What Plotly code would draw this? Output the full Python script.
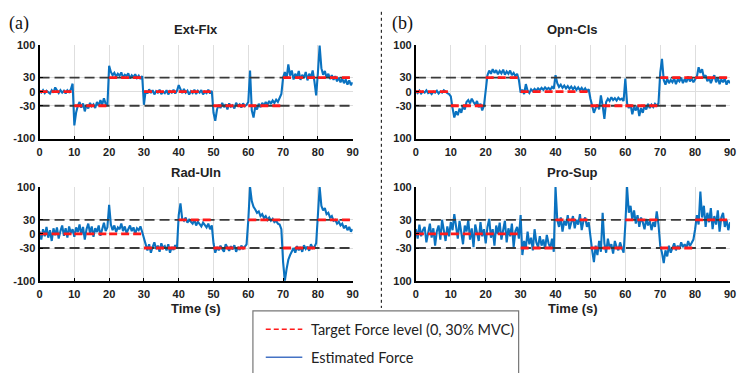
import numpy as np
import plotly.graph_objects as go

# ---------------- data ----------------
time_s = np.arange(0, 90.5, 0.5)  # sampling instants (s)
seg_starts = [0, 10, 20, 30, 40, 50, 60, 70, 80]
seg_len = 10

titles = ["Ext-Flx", "Opn-Cls", "Rad-Uln", "Pro-Sup"]

target_ext = [0, -30, 30, 0, 0, -30, -30, 30, 30]
target_opn = [0, -30, 30, 0, 0, -30, -30, 30, 30]
target_rad = [0, 0, 0, -30, 30, -30, 30, -30, 30]
target_pro = [0, 0, 0, -30, 30, -30, 30, -30, 30]

est_ext = [1, -2, 3, -3, 2, -1, -4, 3, -2, 9, 2, -3, 3, -2, 2, -4, 3, -1, 5, 17,
           -72, -45, -30, -22, -34, -25, -42, -28, -36, -24, -31, -27, -35, -22, -30, -18, -28, -14, -26, -30,
           55, 42, 35, 40, 32, 38, 34, 41, 30, 36, 33, 39, 28, 35, 31, 37, 29, 34, 27, 33,
           -28, 2, -4, 5, -3, 3, -6, 1, -2, 4, -5, 0, -3, 3, -6, 1, -2, 4, -4, 2,
           14, 4, -3, 6, -2, 2, -6, 1, -3, 4, -5, 2, -2, 3, -6, 0, -3, 4, -4, 2,
           -45, -62, -38, -28, -35, -24, -33, -27, -38, -25, -32, -29, -36, -24, -30, -27, -34, -25, -31, -28,
           -22, 45, -40, -55, -32, -38, -26, -33, -24, -30, -22, -28, -20, -26, -19, -24, -17, -22, -12, -5,
           30, 42, 28, 58, 34, 45, 26, 38, 30, 44, 25, 36, 29, 42, 24, 38, 30, 45, 22, -8,
           40, 98, 50, 36, 44, 30, 38, 27, 35, 25, 33, 22, 30, 20, 28, 18, 26, 15, 24, 14, 20]

est_opn = [1, -3, 2, -4, 0, -2, 3, -3, -1, -5, 0, -2, 2, -4, 0, -2, 3, -1, -3, -5,
           -10, -35, -55, -42, -50, -36, -45, -30, -38, -22, -18, -25, -15, -22, -28, -20, -33, -26, -40, -30,
           10, 35, 45, 38, 48, 40, 46, 37, 44, 39, 47, 36, 43, 38, 45, 35, 40, 33, 38, 25,
           -2, 4, -5, 16, 2, -3, 5, 1, 6, 2, 7, 3, 8, 4, 9, 5, 8, 4, 10, 6,
           35, 18, 10, 15, 8, 13, 7, 12, 6, 11, 5, 10, 4, 9, 3, 8, 2, 7, 1, 5,
           -15, -32, -45, -35, -28, -38, -8, -30, -58, -22, -15, -20, -12, -18, -14, -19, -13, -17, -15, -20,
           28, -25, -35, -28, -48, -32, -40, -30, -52, -35, -45, -30, -38, -26, -35, -28, -33, -26, -30, -25,
           40, 70, 25, 15, 28, 18, 25, 20, 28, 16, 26, 22, 30, 18, 27, 20, 32, 22, 28, 20,
           25, 32, 52, 40, 48, 30, 35, 22, 30, 18, 28, 35, 20, 30, 16, 26, 20, 28, 15, 24, 18]

est_rad = [5, -12, 10, -5, 15, -8, 8, -15, 12, -3, 14, -10, 6, 18, -4, 12, -8, 16, 2, 10,
           -6, 14, 4, 20, -2, 15, -12, 10, 22, 2, 16, -6, 12, 4, 18, -4, 10, 24, 6, 14,
           62, 20, 8, 18, 4, 14, 10, 22, 6, 16, 2, 12, 18, 6, 14, 0, 12, 8, 16, 4,
           -10, -25, -35, -22, -40, -28, -18, -32, -25, -38, -20, -30, -26, -35, -22, -40, -28, -34, -24, -30,
           40, 65, 32, 28, 35, 24, 30, 26, 22, 30, 18, 26, 22, 16, 24, 20, 14, 22, 10, 18,
           -20, -40, -28, -35, -25, -32, -38, -22, -30, -36, -26, -33, -24, -38, -28, -34, -25, -31, -27, -22,
           30, 100, 70, 58, 52, 45, 48, 38, 42, 34, 38, 30, 35, 28, 32, 25, 28, 22, 20, 10,
           -60, -100, -75, -55, -45, -38, -30, -40, -26, -35, -28, -38, -24, -32, -27, -36, -22, -30, -28, -20,
           40, 100, 60, 50, 55, 42, 45, 35, 38, 28, 30, 22, 26, 18, 22, 12, 18, 8, 15, 5, 10]

est_pro = [10, -10, 20, -5, 8, 15, -18, 5, 22, -8, 12, -25, 6, 18, -12, 30, 2, -15, 16, -5,
           25, 8, 42, 15, -10, 28, 0, -22, 18, 5, 30, -12, 12, -28, 20, 2, -15, 25, -5, 10,
           -20, 15, 32, -8, 10, -25, 18, 0, 24, -12, 8, 28, -18, 12, -5, 22, -28, 6, 15, -10,
           40, -45, -15, -30, 5, -22, -8, -35, 10, -18, -28, -5, -25, -12, -32, -2, -20, -30, -10, -38,
           100, 30, 15, 35, 5, 28, 18, 40, 10, 25, 38, 12, 30, 20, 42, 8, 28, 35, 15, 25,
           -10, -35, -60, -25, -45, -15, -38, 45, -20, -40, -10, -30, -22, -42, -15, -28, -35, -18, -30, -40,
           20, 100, 45, 60, 30, 50, 22, 40, 15, 35, 25, 10, 32, 18, 28, 8, 25, 15, 48, 20,
           -25, -40, -62, -35, -48, -25, -40, -30, -20, -35, -25, -32, -18, -28, -22, -30, -15, -26, -20, -12,
           10, 40, 20, 90, 35, 60, 15, 45, 25, 55, 10, 38, 20, 50, 5, 35, 45, 15, 30, 8, 25]

y_ticks = [-100, -30, 0, 30, 100]
x_ticks = [0, 10, 20, 30, 40, 50, 60, 70, 80, 90]

# ---------------- layout geometry ----------------
W, H = 739, 373
def px_x(p):
    return p / W
def px_y(p):
    return 1 - p / H

panels = [
    dict(xd=[px_x(37), px_x(354)], yd=[px_y(137), px_y(40)], est=est_ext, tgt=target_ext, ylab=["-100", "-30", "0", "30", "100"]),
    dict(xd=[px_x(418), px_x(736)], yd=[px_y(137), px_y(40)], est=est_opn, tgt=target_opn, ylab=["100", "-30", "0", "30", "100"]),
    dict(xd=[px_x(37), px_x(354)], yd=[px_y(284), px_y(187)], est=est_rad, tgt=target_rad, ylab=["-100", "-30", "0", "30", "100"]),
    dict(xd=[px_x(418), px_x(736)], yd=[px_y(284), px_y(187)], est=est_pro, tgt=target_pro, ylab=["100", "-30", "0", "30", "100"]),
]

BLUE = "#0a72c0"
RED = "#FF1A1A"
DARK = "#3a3a3a"

fig = go.Figure()
layout = dict(width=W, height=H, margin=dict(l=0, r=0, t=0, b=0),
              paper_bgcolor="white", plot_bgcolor="white", showlegend=False)
annotations = []
shapes = []

for k, p in enumerate(panels):
    n = "" if k == 0 else str(k + 1)
    xa, ya = "x" + n, "y" + n
    # estimated force
    fig.add_trace(go.Scatter(x=time_s, y=p["est"], mode="lines", xaxis=xa, yaxis=ya,
                             line=dict(color=BLUE, width=2.1), hoverinfo="skip"))
    # +/-30 reference dashed lines
    for lvl in (30, -30):
        fig.add_trace(go.Scatter(x=[x_ticks[0], x_ticks[-1]], y=[lvl, lvl], mode="lines",
                                 xaxis=xa, yaxis=ya,
                                 line=dict(color=DARK, width=1.8, dash="10px,5px"), hoverinfo="skip"))
    # target force (red dashed step segments)
    tx, ty = [], []
    for s, v in zip(seg_starts, p["tgt"]):
        tx += [s, s + seg_len, None]
        ty += [v, v, None]
    fig.add_trace(go.Scatter(x=tx, y=ty, mode="lines", xaxis=xa, yaxis=ya,
                             line=dict(color=RED, width=2.8, dash="8px,4px"), hoverinfo="skip"))

    axis_common = dict(showline=True, linecolor="black", linewidth=2, mirror=False,
                       ticks="inside", ticklen=3, tickcolor="black", tickwidth=1,
                       showgrid=True, gridcolor="#dedede", gridwidth=1, zeroline=False,
                       tickfont=dict(family="Liberation Sans, Arial", size=11, color="#222", weight="bold"))
    layout["xaxis" + n] = dict(domain=p["xd"], anchor=ya, range=[0, 90], tickvals=x_ticks,
                               ticklabelstandoff=2, **axis_common)
    layout["yaxis" + n] = dict(domain=p["yd"], anchor=xa, range=[-100, 100], tickvals=y_ticks,
                               ticktext=p["ylab"], **axis_common)
    # subplot title
    annotations.append(dict(text="<b>" + titles[k] + "</b>", xref="paper", yref="paper",
                            x=(p["xd"][0] + p["xd"][1]) / 2, y=p["yd"][1] + 0.015,
                            xanchor="center", yanchor="bottom", showarrow=False,
                            font=dict(family="Liberation Sans, Arial", size=13, color="#222")))
    if k >= 2:
        annotations.append(dict(text="<b>Time (s)</b>", xref="paper", yref="paper",
                                x=(p["xd"][0] + p["xd"][1]) / 2, y=px_y(313),
                                xanchor="center", yanchor="middle", showarrow=False,
                                font=dict(family="Liberation Sans, Arial", size=13, color="#222")))

# panel letters
annotations.append(dict(text="(a)", xref="paper", yref="paper", x=px_x(4), y=px_y(18),
                        xanchor="left", yanchor="middle", showarrow=False,
                        font=dict(family="Liberation Serif, Times New Roman", size=18, color="#111")))
annotations.append(dict(text="(b)", xref="paper", yref="paper", x=px_x(392), y=px_y(18),
                        xanchor="left", yanchor="middle", showarrow=False,
                        font=dict(family="Liberation Serif, Times New Roman", size=18, color="#111")))

# dotted divider
shapes.append(dict(type="line", xref="paper", yref="paper", x0=px_x(383), x1=px_x(383),
                   y0=px_y(6), y1=px_y(312), line=dict(color="black", width=1, dash="dot")))

# legend box (drawn manually)
shapes.append(dict(type="rect", xref="paper", yref="paper", x0=px_x(253), x1=px_x(522),
                   y0=px_y(380), y1=px_y(315), line=dict(color="#777", width=1.2),
                   fillcolor="white", layer="above"))
shapes.append(dict(type="line", xref="paper", yref="paper", x0=px_x(266), x1=px_x(303),
                   y0=px_y(334), y1=px_y(334), line=dict(color=RED, width=1.3, dash="5px,3px")))
shapes.append(dict(type="line", xref="paper", yref="paper", x0=px_x(266), x1=px_x(303),
                   y0=px_y(363), y1=px_y(363), line=dict(color="#4472C4", width=1.6)))
annotations.append(dict(text="Target Force level (0, 30% MVC)", xref="paper", yref="paper",
                        x=px_x(310), y=px_y(334), xanchor="left", yanchor="middle", showarrow=False,
                        font=dict(family="Lato, Open Sans", size=14.5, color="#222")))
annotations.append(dict(text="Estimated Force", xref="paper", yref="paper",
                        x=px_x(310), y=px_y(363), xanchor="left", yanchor="middle", showarrow=False,
                        font=dict(family="Lato, Open Sans", size=14.5, color="#222")))

layout["annotations"] = annotations
layout["shapes"] = shapes
fig.update_layout(**layout)
fig.write_html("out.html")
